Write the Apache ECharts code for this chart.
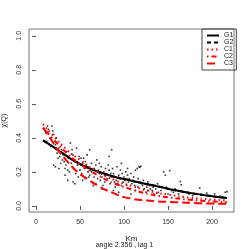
<!DOCTYPE html>
<html><head><meta charset="utf-8">
<script src="https://cdn.jsdelivr.net/npm/echarts@6/dist/echarts.min.js"></script>
<style>html,body{margin:0;padding:0;background:#fff}#c{width:249px;height:249px}</style>
</head><body><div id="c"></div>
<script>
const xTicks = [0, 50, 100, 150, 200];
const yTicks = [0, 0.2, 0.4, 0.6, 0.8, 1.0];
const seriesNames = ['G1', 'G2', 'C1', 'C2', 'C3'];

const ptX = [11,13,14,16,18,19,20,12,17,20,22,
 22,24,25,26,27,28,29,23,26,30,
 31,32,33,34,35,36,37,38,39,40,33,36,
 41,42,43,44,45,46,47,48,49,50,44,47,42,
 51,52,53,54,55,56,57,58,59,60,53,56,59,
 61,61,62,63,64,65,66,67,68,69,70,63,66,68,
 71,72,73,74,75,76,77,78,79,80,72,75,78,
 81,82,83,84,85,86,87,88,89,90,83,86,88,
 91,92,93,94,95,96,97,98,99,100,94,97,
 101,102,103,104,105,106,107,108,109,110,104,108,
 111,112,113,114,115,116,117,118,119,120,113,116,
 121,122,123,124,125,126,127,128,129,130,
 131,132,133,134,136,138,139,
 142,145,147,148,150,
 152,154,156,158,
 162,164,165,168,
 174,178,186,188,
 194,198,203,209,215,217];
const ptY = [0.43,0.47,0.45,0.40,0.47,0.44,0.42,0.38,0.35,0.24,0.23,
 0.36,0.31,0.28,0.34,0.29,0.25,0.33,0.40,0.22,0.27,
 0.30,0.26,0.22,0.24,0.32,0.15,0.28,0.20,0.37,0.25,0.18,0.21,
 0.33,0.14,0.22,0.27,0.19,0.34,0.24,0.17,0.29,0.21,0.13,0.26,0.30,
 0.28,0.19,0.25,0.28,0.22,0.16,0.24,0.30,0.20,0.17,0.15,0.26,0.23,
 0.33,0.18,0.21,0.25,0.14,0.12,0.22,0.19,0.24,0.27,0.16,0.20,0.17,0.13,
 0.21,0.19,0.15,0.23,0.17,0.12,0.20,0.14,0.22,0.19,0.25,0.10,0.18,
 0.16,0.24,0.21,0.13,0.19,0.17,0.22,0.19,0.14,0.11,0.29,0.33,0.09,
 0.15,0.23,0.13,0.18,0.16,0.21,0.12,0.19,0.14,0.17,0.08,0.25,
 0.15,0.20,0.12,0.18,0.14,0.16,0.10,0.19,0.13,0.15,0.22,0.07,
 0.17,0.12,0.21,0.14,0.22,0.11,0.23,0.227,0.233,0.13,0.09,0.16,
 0.12,0.15,0.10,0.13,0.08,0.11,0.14,0.09,0.12,0.10,
 0.12,0.09,0.11,0.07,0.10,0.13,0.08,
 0.09,0.20,0.18,0.11,0.07,
 0.207,0.09,0.08,0.10,
 0.07,0.143,0.124,0.08,
 0.07,0.06,0.104,0.065,
 0.075,0.06,0.07,0.058,0.08,0.084];

const g1X = [8,20,30,40,50,60,70,80,90,100,115,130,140,160,180,200,217];
const g1Y = [0.385,0.345,0.31,0.275,0.245,0.222,0.202,0.185,0.17,0.158,0.14,0.124,0.112,0.09,0.072,0.057,0.046];
const g2Y = [0.385,0.345,0.31,0.275,0.245,0.222,0.202,0.185,0.17,0.158,0.14,0.124,0.112,0.09,0.072,0.057,0.046];
const c1X = [8,20,35,50,70,90,110,130,150,175,200,217];
const c1Y = [0.48,0.41,0.33,0.27,0.20,0.15,0.115,0.085,0.066,0.048,0.037,0.031];
const c2Y = [0.46,0.39,0.31,0.245,0.18,0.13,0.095,0.068,0.05,0.036,0.026,0.022];
const c3X = [8,16,24,35,47,58,73,88,101,130,157,185,217];
const c3Y = [0.46,0.40,0.335,0.265,0.20,0.16,0.11,0.075,0.05,0.03,0.022,0.016,0.012];

const zip = (xs, ys) => xs.map((x, i) => [x, ys[i]]);
const FONT = '"Liberation Sans", Arial, sans-serif';

function lineSeries(name, xs, ys, color, type, width, z) {
  return {type: 'line', name, data: zip(xs, ys), symbol: 'none', showSymbol: false, smooth: true,
    itemStyle: {color}, lineStyle: {color, width, type}, z};
}

const chart = echarts.init(document.getElementById('c'), null, {renderer: 'canvas'});
chart.setOption({
  animation: false,
  grid: {left: 29, right: 15, top: 29, bottom: 37, show: true, borderColor: '#777', borderWidth: 1,
    containLabel: false, outerBoundsMode: 'none'},
  xAxis: {
    type: 'value', min: -8, max: 225,
    name: 'Km', nameLocation: 'middle', nameGap: 23,
    nameTextStyle: {fontFamily: FONT, fontSize: 8, color: '#222'},
    axisLine: {show: false},
    splitLine: {show: false},
    axisTick: {show: true, length: 4, lineStyle: {color: '#555'}, customValues: xTicks},
    axisLabel: {fontFamily: FONT, fontSize: 7, color: '#333', margin: 7, customValues: xTicks}
  },
  yAxis: {
    type: 'value', min: -0.036, max: 1.04,
    name: 'χ(Q)', nameLocation: 'middle', nameGap: 21, nameRotate: 90,
    nameTextStyle: {fontFamily: FONT, fontSize: 7, color: '#222'},
    axisLine: {show: false},
    splitLine: {show: false},
    axisTick: {show: true, length: 4, lineStyle: {color: '#555'}, customValues: yTicks},
    axisLabel: {fontFamily: FONT, fontSize: 7, color: '#333', margin: 6, rotate: 90,
      align: 'center', verticalAlign: 'bottom',
      customValues: yTicks, formatter: v => v.toFixed(1)}
  },
  legend: {
    orient: 'vertical', left: 202, top: 29,
    data: seriesNames,
    itemWidth: 12, itemHeight: 7, itemGap: 0,
    padding: [3, 3, 3, 4],
    borderColor: '#444', borderWidth: 1, borderRadius: 0,
    itemStyle: {opacity: 0},
    textStyle: {fontFamily: FONT, fontSize: 7, color: '#222'}
  },
  graphic: [{
    type: 'text', left: 'center', top: 242,
    style: {text: 'angle 2.356 , lag 1', font: '7px ' + FONT, fill: '#222'}
  }],
  series: [
    {type: 'scatter', name: 'pts', data: zip(ptX, ptY), symbol: 'rect', symbolSize: 1.6,
     itemStyle: {color: '#000'}, z: 1},
    lineSeries('G2', g1X, g2Y, '#000', [4, 3], 2, 2),
    lineSeries('G1', g1X, g1Y, '#000', 'solid', 2, 3),
    lineSeries('C1', c1X, c1Y, '#ff0000', [1.5, 3], 2, 4),
    lineSeries('C2', c1X, c2Y, '#ff0000', [1.5, 3, 5, 3], 2, 4),
    lineSeries('C3', c3X, c3Y, '#ff0000', [8, 4], 2, 4)
  ]
});
</script></body></html>
